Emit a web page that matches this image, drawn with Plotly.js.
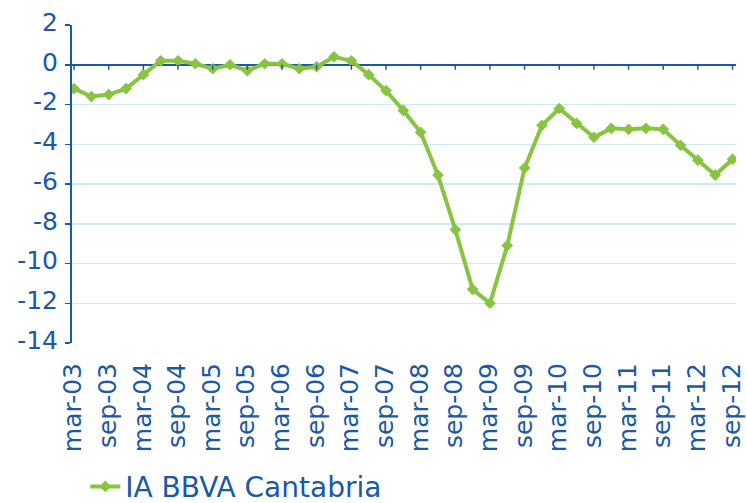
<!DOCTYPE html>
<html>
<head>
<meta charset="utf-8">
<script src="https://cdn.plot.ly/plotly-3.0.1.min.js"></script>
<style>
  html, body { margin: 0; padding: 0; background: #ffffff; }
  #chart { width: 746px; height: 503px; }
</style>
</head>
<body>
<div id="chart"></div>
<script>
// Quarterly periods (mar, jun, sep, dic) from mar-03 to sep-12
const quarters = [
  "mar-03","jun-03","sep-03","dic-03",
  "mar-04","jun-04","sep-04","dic-04",
  "mar-05","jun-05","sep-05","dic-05",
  "mar-06","jun-06","sep-06","dic-06",
  "mar-07","jun-07","sep-07","dic-07",
  "mar-08","jun-08","sep-08","dic-08",
  "mar-09","jun-09","sep-09","dic-09",
  "mar-10","jun-10","sep-10","dic-10",
  "mar-11","jun-11","sep-11","dic-11",
  "mar-12","jun-12","sep-12"
];

// IA BBVA Cantabria (% y/y)
const iaCantabria = [
  -1.2, -1.6, -1.5, -1.2,
  -0.5,  0.2,  0.2,  0.05,
  -0.2,  0.0, -0.3,  0.05,
   0.05, -0.2, -0.1,  0.4,
   0.2, -0.5, -1.3, -2.3,
  -3.4, -5.55, -8.3, -11.3,
  -12.0, -9.1, -5.2, -3.05,
  -2.2, -2.95, -3.65, -3.2,
  -3.25, -3.2, -3.25, -4.05,
  -4.8, -5.55, -4.75
];

// Labelled ticks (every second quarter)
const tickLabels = [
  "mar-03","sep-03","mar-04","sep-04","mar-05","sep-05","mar-06","sep-06",
  "mar-07","sep-07","mar-08","sep-08","mar-09","sep-09","mar-10","sep-10",
  "mar-11","sep-11","mar-12","sep-12"
];

const seriesName = "IA BBVA Cantabria";
const yTicks = [2, 0, -2, -4, -6, -8, -10, -12, -14];

const BLUE = "#1a58a8";
const GREEN = "#87c540";
const GRID = "#cfe9f6";
const FONT = "DejaVu Sans, sans-serif";

const trace = {
  x: quarters,
  y: iaCantabria,
  type: "scatter",
  mode: "lines+markers",
  name: seriesName,
  line: { color: GREEN, width: 4 },
  marker: { symbol: "diamond", size: 9, color: GREEN },
  hoverinfo: "x+y"
};

// small tick marks hanging under the zero line at each labelled period
const zeroTicks = tickLabels.map(lbl => ({
  type: "line",
  xref: "x",
  yref: "y",
  x0: quarters.indexOf(lbl),
  x1: quarters.indexOf(lbl),
  ysizemode: "pixel",
  yanchor: 0,
  y0: 0,
  y1: -5,
  line: { color: BLUE, width: 1.5 },
  layer: "above"
}));

const layout = {
  width: 746,
  height: 503,
  margin: { l: 72, r: 10, t: 25, b: 160, autoexpand: false },
  paper_bgcolor: "#ffffff",
  plot_bgcolor: "#ffffff",
  font: { family: FONT, color: BLUE },
  showlegend: true,
  legend: {
    orientation: "h",
    x: 0.02,
    xanchor: "left",
    y: -0.452,
    yanchor: "middle",
    font: { family: FONT, size: 28, color: BLUE },
    bgcolor: "rgba(0,0,0,0)"
  },
  shapes: zeroTicks,
  xaxis: {
    type: "category",
    categoryorder: "array",
    categoryarray: quarters,
    range: [-0.12, 38.2],
    tickmode: "array",
    tickvals: tickLabels,
    ticktext: tickLabels,
    tickangle: -90,
    tickfont: { family: FONT, size: 25, color: BLUE },
    ticks: "",
    ticklabelstandoff: 14,
    ticklabelshift: -1,
    showline: false,
    showgrid: false,
    zeroline: false,
    automargin: false,
    fixedrange: true
  },
  yaxis: {
    range: [-14, 2],
    tickmode: "array",
    tickvals: yTicks,
    ticktext: yTicks.map(String),
    tickfont: { family: FONT, size: 25, color: BLUE },
    showline: true,
    linecolor: BLUE,
    linewidth: 2,
    ticks: "outside",
    ticklen: 5,
    tickwidth: 1.5,
    tickcolor: BLUE,
    ticklabelstandoff: 2,
    ticklabelshift: -3,
    showgrid: true,
    gridcolor: GRID,
    gridwidth: 1.5,
    zeroline: true,
    zerolinecolor: BLUE,
    zerolinewidth: 2.5,
    automargin: false,
    fixedrange: true
  }
};

Plotly.newPlot("chart", [trace], layout, { displayModeBar: false, staticPlot: true });
</script>
</body>
</html>
